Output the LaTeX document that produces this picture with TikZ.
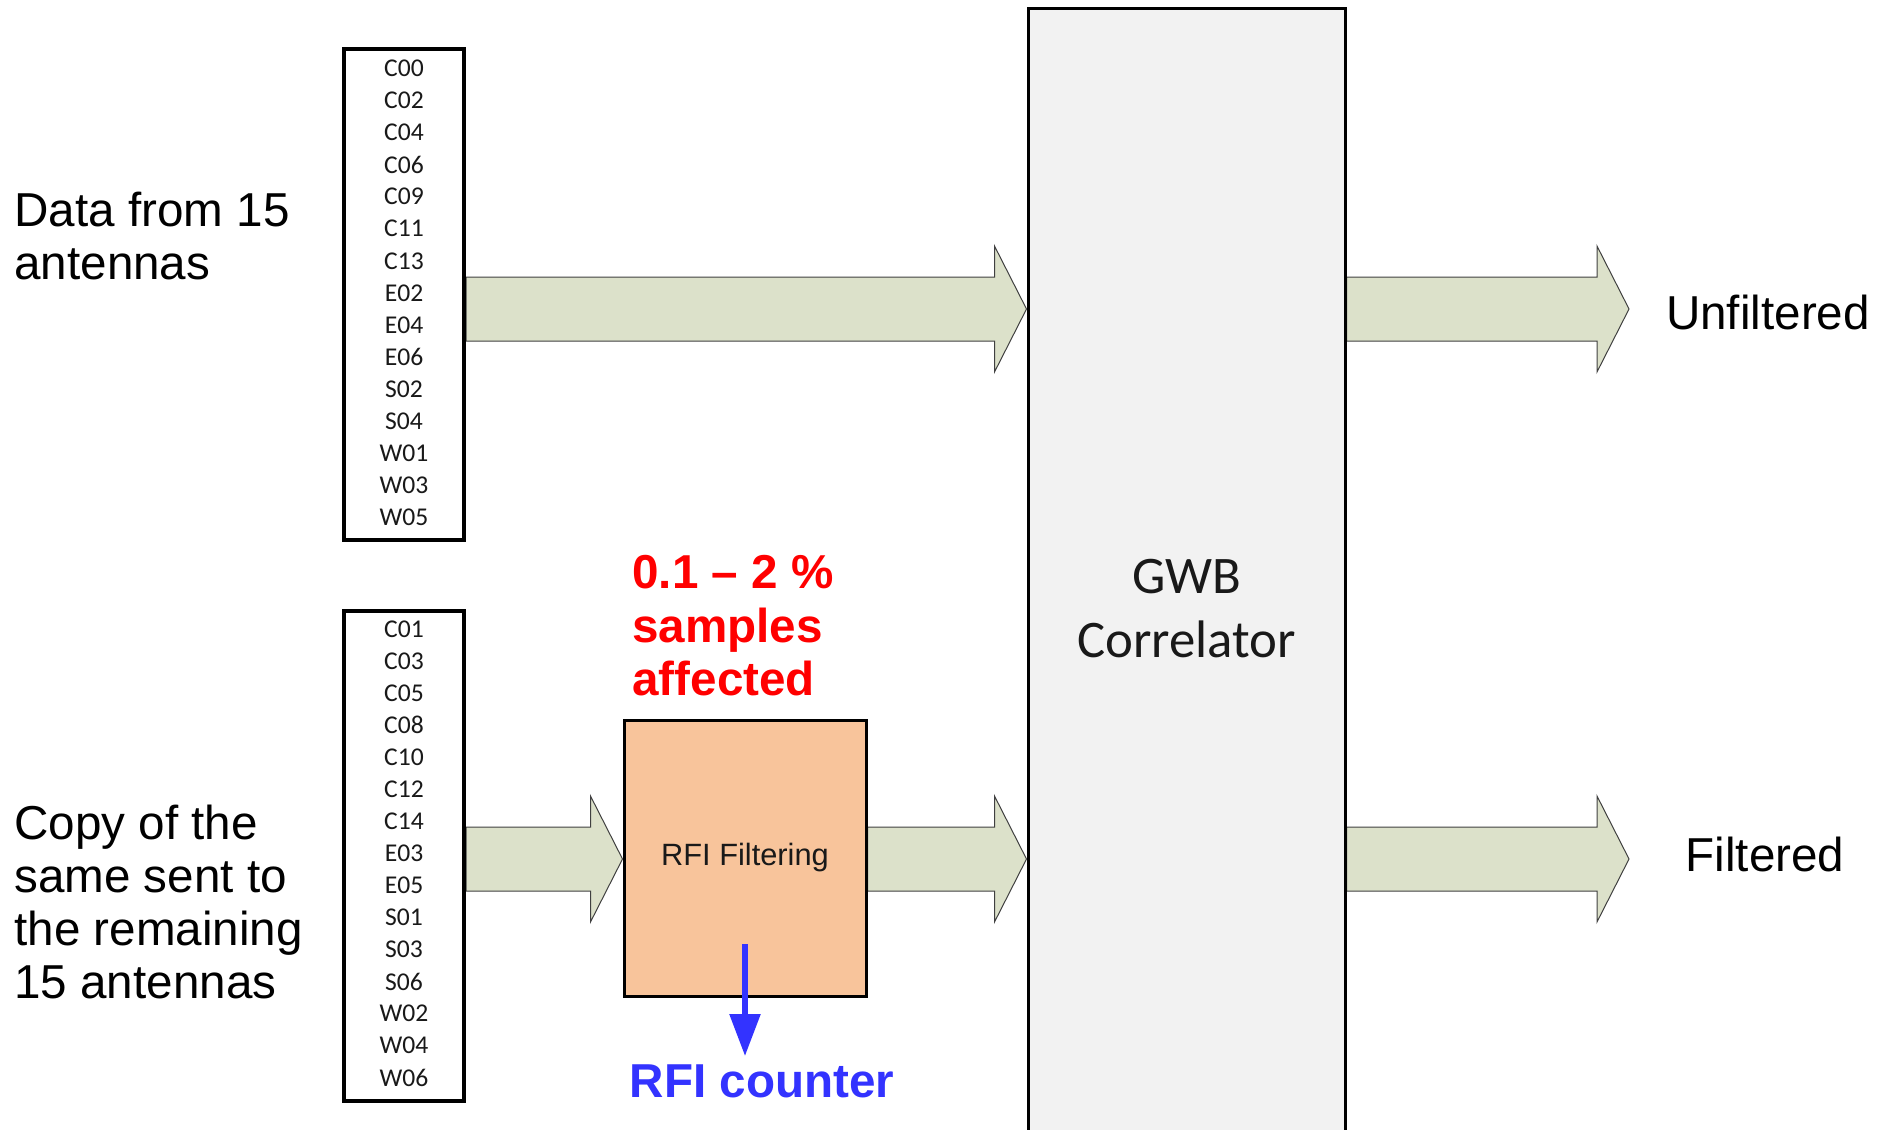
\documentclass[tikz,border=0pt]{standalone}
\usepackage{fontspec}
\setmainfont{Liberation Sans}
\newfontfamily\calib{Carlito}
\usetikzlibrary{calc,arrows.meta,backgrounds}
\definecolor{arrfill}{HTML}{DCE1CA}
\definecolor{rfifill}{HTML}{F8C49B}
\definecolor{gwbfill}{HTML}{F2F2F2}
\definecolor{cblue}{HTML}{3333FF}
\tikzset{
  antbox/.style={draw=black, line width=2pt, fill=white, minimum width=60pt, minimum height=245.5pt, inner sep=0pt},
  antlbl/.style={font=\calib\fontsize{12.8pt}{14pt}\selectfont, text=black!90, inner sep=0pt},
  fatarr/.style={fill=arrfill, draw=black!75, line width=0.5pt, line join=miter},
  biglbl/.style={font=\fontsize{23.8pt}{26.5pt}\selectfont, align=left, anchor=west, inner sep=0pt},
  redlbl/.style={font=\bfseries\fontsize{23.8pt}{26.8pt}\selectfont, text=red, align=left, anchor=west, inner sep=0pt},
}
\newcommand\fatarrow[2]{%
  \path[fatarr] let \p1=#1, \p2=#2 in
    (\x1,\y1+16pt) -- (\x2-16pt,\y1+16pt) -- (\x2-16pt,\y1+31.5pt) -- (\x2,\y1)
    -- (\x2-16pt,\y1-31.5pt) -- (\x2-16pt,\y1-16pt) -- (\x1,\y1-16pt) -- cycle;}
\begin{document}
\begin{tikzpicture}[x=0.5pt,y=-0.5pt]
\useasboundingbox (0,0) rectangle (1886,1130);
% boxes
\node[draw=black, line width=1.5pt, fill=gwbfill, minimum width=158.5pt, minimum height=601pt, inner sep=0pt,
      font=\calib\fontsize{26.4pt}{32pt}\selectfont, text=black!90, align=center] (gwb) at (1186.5,609) {GWB\\Correlator};
\node[antbox] (tb) at (404,294.5) {};
\node[antbox, minimum height=245pt] (bb) at (404,856) {};
\node[draw=black, line width=1.5pt, fill=rfifill, minimum width=121pt, minimum height=138pt, inner sep=0pt,
      font=\fontsize{15.4pt}{18pt}\selectfont, text=black!90] (rfi) at (745,858) {RFI Filtering};
% antenna labels
\foreach \t [count=\i from 0] in {C00,C02,C04,C06,C09,C11,C13,E02,E04,E06,S02,S04,W01,W03,W05}
  \node[antlbl] (ta\i) at (404,{68.6+32.03*\i}) {\t};
\foreach \t [count=\i from 0] in {C01,C03,C05,C08,C10,C12,C14,E03,E05,S01,S03,S06,W02,W04,W06}
  \node[antlbl] (ba\i) at (404,{629+32.05*\i}) {\t};
% reference rows and free ends
\coordinate (r1) at (0,309);
\coordinate (r2) at (0,859);
\coordinate (o1) at (1629,309);
\coordinate (o2) at (1629,859);
% fat arrows
\begin{scope}[on background layer]
\fatarrow{(tb.east |- r1)}{(gwb.west |- r1)}
\fatarrow{(gwb.east |- r1)}{(o1)}
\fatarrow{(bb.east |- r2)}{(rfi.west |- r2)}
\fatarrow{(rfi.east |- r2)}{(gwb.west |- r2)}
\fatarrow{(gwb.east |- r2)}{(o2)}
\end{scope}
% labels
\node[biglbl] (lin1) at (14,236.5) {Data from 15\\antennas};
\node[biglbl] (lin2) at (14,902) {Copy of the\\same sent to\\the remaining\\15 antennas};
\node[font=\fontsize{23.8pt}{26.5pt}\selectfont, inner sep=0pt] (unf) at (1768,312) {Unfiltered};
\node[font=\fontsize{23.8pt}{26.5pt}\selectfont, inner sep=0pt] (fil) at (1765,854) {Filtered};
\node[redlbl] (pct) at (632,626) {0.1 – 2 \%\\samples\\affected};
\node[font=\bfseries\fontsize{23.8pt}{26.5pt}\selectfont, text=cblue, inner sep=0pt] (cnt) at (762,1081) {RFI counter};
% blue arrow
\coordinate (cs) at (745,944);
\draw[cblue, line width=2.8pt, -{Triangle[width=15pt,length=21pt]}, shorten >=4pt] (cs) -- (cnt.north -| cs);
\end{tikzpicture}
\end{document}
